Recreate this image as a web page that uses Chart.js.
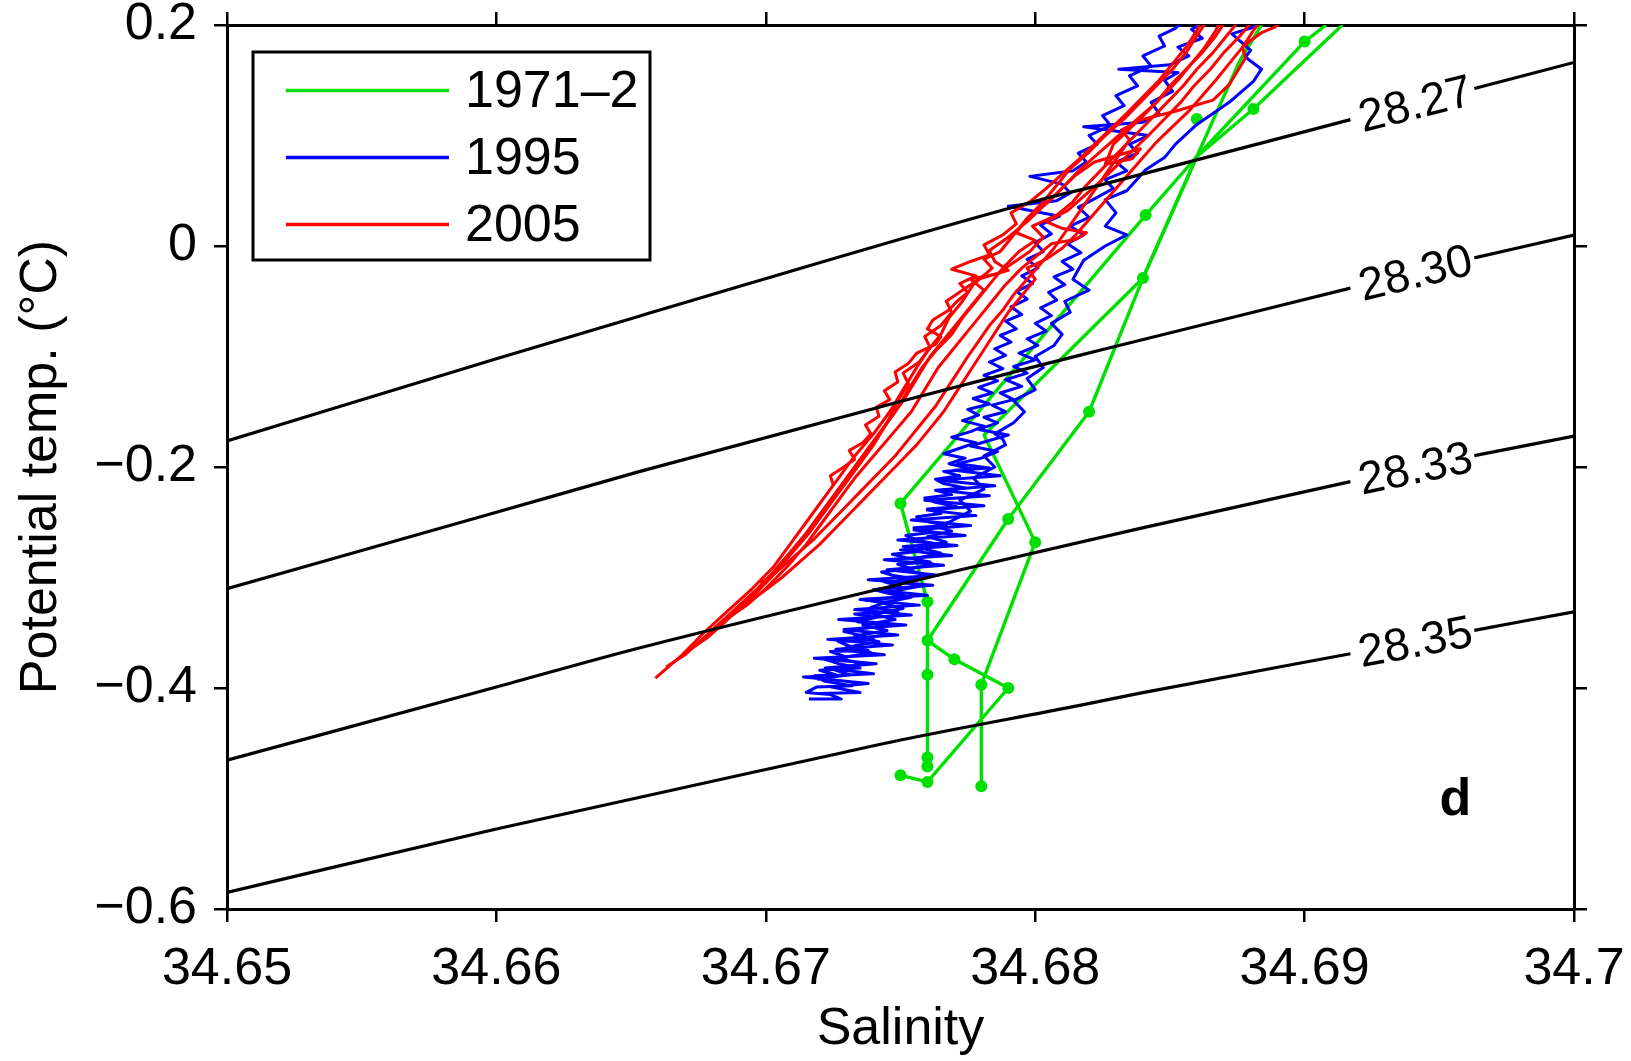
<!DOCTYPE html>
<html>
<head>
<meta charset="utf-8">
<script src="https://cdn.jsdelivr.net/npm/chart.js@4.4.1/dist/chart.umd.min.js"></script>
<style>
  html, body { margin: 0; padding: 0; background: #fff; }
  #wrap { width: 1631px; height: 1061px; }
</style>
</head>
<body>
<div id="wrap"><canvas id="chart" width="1631" height="1061"></canvas></div>
<script>
const FONT = '"Liberation Sans", Arial, Helvetica, sans-serif';

// axes
const X_TICKS = [34.65, 34.66, 34.67, 34.68, 34.69, 34.7];
const X_TICK_LABELS = ["34.65", "34.66", "34.67", "34.68", "34.69", "34.7"];
const Y_TICKS = [-0.6, -0.4, -0.2, 0, 0.2];
const Y_TICK_LABELS = ["\u22120.6", "\u22120.4", "\u22120.2", "0", "0.2"];

const SERIES_LABELS = ["1971\u20132", "1995", "2005"];
const SERIES_COLORS = ["#00e000", "#0000ff", "#ff0000"];

// isopycnals (salinity, potential temp); null marks the gap left for the label
const ISO_LABELS = ["28.27", "28.30", "28.33", "28.35"];
const ISO_S = [
  [34.6500, 34.6600, 34.6653, 34.6802, 34.6824, 34.6917, null, 34.6963, 34.7000],
  [34.6500, 34.6600, 34.6653, 34.6752, 34.6802, 34.6824, 34.6917, null, 34.6963, 34.7000],
  [34.6500, 34.6600, 34.6653, 34.6772, 34.6839, 34.6917, null, 34.6963, 34.7000],
  [34.6500, 34.6600, 34.6728, 34.6750, 34.6817, 34.6839, 34.6917, null, 34.6963, 34.7000],
];
const ISO_T = [
  [-0.1765, -0.1021, -0.0635, 0.0419, 0.0551, 0.1144, null, 0.1426, 0.1661],
  [-0.3101, -0.2410, -0.2042, -0.1393, -0.1078, -0.0944, -0.0381, null, -0.0108, 0.0099],
  [-0.4654, -0.3991, -0.3638, -0.2932, -0.2555, -0.2132, null, -0.1897, -0.1720],
  [-0.5850, -0.5276, -0.4588, -0.4471, -0.4155, -0.4047, -0.3690, null, -0.3478, -0.3310],
];
const PANEL_LETTER = "d";
const PANEL_AT = [34.6956, -0.502];

// 1971-2 bottle casts
const GREEN_1 = [[34.6914,0.200],[34.6881,0.124],[34.6860,0.081],[34.6841,0.028],[34.6750,-0.233],[34.6760,-0.322],[34.6760,-0.357],[34.6760,-0.388],[34.6760,-0.463],[34.6760,-0.471]];
const GREEN_2 = [[34.6908,0.200],[34.6900,0.185],[34.6860,0.081],[34.6840,-0.029],[34.6781,-0.171],[34.6800,-0.268],[34.6780,-0.397],[34.6780,-0.489]];
const GREEN_3 = [[34.6884,0.200],[34.6876,0.168],[34.6860,0.081],[34.6840,-0.029],[34.6820,-0.150],[34.6790,-0.247],[34.6760,-0.357],[34.6770,-0.374],[34.6790,-0.400],[34.6760,-0.485],[34.6750,-0.479]];
const GREEN_BOTTLES = [[34.6900,0.185],[34.6881,0.124],[34.6860,0.115],[34.6841,0.028],[34.6840,-0.029],[34.6820,-0.150],[34.6790,-0.247],[34.6800,-0.268],[34.6750,-0.233],[34.6760,-0.322],[34.6760,-0.357],[34.6770,-0.374],[34.6790,-0.400],[34.6780,-0.397],[34.6760,-0.388],[34.6760,-0.463],[34.6760,-0.471],[34.6750,-0.479],[34.6760,-0.485],[34.6780,-0.489]];

// 1995 CTD profiles
const BLUE_1 = [[34.6716,-0.410],[34.6728,-0.410],[34.6724,-0.406],[34.6715,-0.404],[34.6719,-0.399],[34.6732,-0.398],[34.6722,-0.394],[34.6718,-0.389],[34.6726,-0.388],[34.6720,-0.384],[34.6735,-0.382],[34.6727,-0.378],[34.6722,-0.374],[34.6730,-0.372],[34.6724,-0.367],[34.6738,-0.366],[34.6731,-0.362],[34.6727,-0.358],[34.6740,-0.356],[34.6733,-0.351],[34.6729,-0.349],[34.6736,-0.346],[34.6745,-0.344],[34.6734,-0.340],[34.6741,-0.336],[34.6733,-0.333],[34.6749,-0.331],[34.6739,-0.327],[34.6744,-0.323],[34.6736,-0.320],[34.6752,-0.318],[34.6745,-0.314],[34.6740,-0.311],[34.6750,-0.308],[34.6744,-0.304],[34.6757,-0.302],[34.6747,-0.298],[34.6743,-0.295],[34.6754,-0.292],[34.6749,-0.288],[34.6761,-0.286],[34.6752,-0.282],[34.6747,-0.279],[34.6758,-0.276],[34.6751,-0.272],[34.6764,-0.270],[34.6756,-0.266],[34.6752,-0.262],[34.6762,-0.259],[34.6755,-0.255],[34.6767,-0.253],[34.6759,-0.249],[34.6756,-0.245],[34.6765,-0.242],[34.6760,-0.238],[34.6771,-0.236],[34.6763,-0.232],[34.6759,-0.228],[34.6769,-0.225],[34.6763,-0.221],[34.6774,-0.219],[34.6766,-0.215],[34.6763,-0.211],[34.6772,-0.208],[34.6766,-0.204],[34.6777,-0.202],[34.6768,-0.197],[34.6774,-0.192],[34.6766,-0.188],[34.6772,-0.183],[34.6778,-0.178],[34.6769,-0.173],[34.6776,-0.168],[34.6781,-0.163],[34.6773,-0.158],[34.6779,-0.153],[34.6775,-0.148],[34.6783,-0.143],[34.6777,-0.138],[34.6784,-0.133],[34.6779,-0.128],[34.6786,-0.122],[34.6781,-0.117],[34.6788,-0.111],[34.6783,-0.105],[34.6789,-0.099],[34.6785,-0.093],[34.6791,-0.087],[34.6787,-0.081],[34.6793,-0.075],[34.6789,-0.068],[34.6795,-0.062],[34.6791,-0.055],[34.6797,-0.048],[34.6793,-0.041],[34.6799,-0.034],[34.6795,-0.027],[34.6801,-0.020],[34.6797,-0.012],[34.6803,-0.005],[34.6800,0.003],[34.6806,0.011],[34.6802,0.019],[34.6809,0.027],[34.6790,0.036],[34.6808,0.041],[34.6813,0.048],[34.6810,0.056],[34.6798,0.063],[34.6814,0.068],[34.6819,0.076],[34.6816,0.084],[34.6823,0.092],[34.6820,0.100],[34.6828,0.109],[34.6825,0.118],[34.6833,0.127],[34.6830,0.136],[34.6838,0.145],[34.6835,0.154],[34.6843,0.163],[34.6840,0.172],[34.6848,0.181],[34.6846,0.190],[34.6852,0.197],[34.6855,0.204]];
const BLUE_2 = [[34.6720,-0.405],[34.6735,-0.404],[34.6724,-0.399],[34.6738,-0.396],[34.6714,-0.390],[34.6740,-0.387],[34.6722,-0.382],[34.6741,-0.378],[34.6718,-0.373],[34.6744,-0.370],[34.6726,-0.365],[34.6747,-0.361],[34.6723,-0.356],[34.6749,-0.352],[34.6729,-0.347],[34.6752,-0.343],[34.6727,-0.338],[34.6754,-0.334],[34.6733,-0.329],[34.6757,-0.325],[34.6735,-0.320],[34.6760,-0.316],[34.6740,-0.311],[34.6762,-0.307],[34.6738,-0.302],[34.6764,-0.298],[34.6745,-0.293],[34.6766,-0.289],[34.6744,-0.284],[34.6769,-0.280],[34.6750,-0.275],[34.6771,-0.271],[34.6749,-0.266],[34.6774,-0.262],[34.6755,-0.257],[34.6776,-0.253],[34.6754,-0.248],[34.6778,-0.244],[34.6760,-0.239],[34.6781,-0.235],[34.6759,-0.230],[34.6783,-0.226],[34.6765,-0.221],[34.6785,-0.217],[34.6764,-0.212],[34.6787,-0.208],[34.6770,-0.203],[34.6783,-0.201],[34.6771,-0.197],[34.6780,-0.192],[34.6786,-0.186],[34.6776,-0.181],[34.6783,-0.176],[34.6790,-0.171],[34.6779,-0.166],[34.6786,-0.160],[34.6781,-0.155],[34.6789,-0.150],[34.6784,-0.144],[34.6792,-0.139],[34.6787,-0.133],[34.6795,-0.127],[34.6789,-0.121],[34.6797,-0.115],[34.6792,-0.109],[34.6800,-0.103],[34.6794,-0.097],[34.6801,-0.090],[34.6797,-0.084],[34.6804,-0.077],[34.6800,-0.070],[34.6806,-0.063],[34.6802,-0.056],[34.6808,-0.049],[34.6805,-0.042],[34.6811,-0.035],[34.6807,-0.028],[34.6814,-0.021],[34.6810,-0.014],[34.6817,-0.006],[34.6812,0.002],[34.6818,0.010],[34.6813,0.018],[34.6820,0.026],[34.6816,0.035],[34.6823,0.044],[34.6829,0.052],[34.6826,0.060],[34.6834,0.068],[34.6830,0.076],[34.6838,0.084],[34.6835,0.092],[34.6842,0.100],[34.6818,0.108],[34.6840,0.112],[34.6846,0.120],[34.6843,0.130],[34.6851,0.140],[34.6848,0.150],[34.6853,0.157],[34.6831,0.160],[34.6850,0.164],[34.6857,0.172],[34.6853,0.180],[34.6862,0.188],[34.6858,0.196],[34.6864,0.204]];
const BLUE_3 = [[34.6719,-0.392],[34.6731,-0.388],[34.6725,-0.383],[34.6736,-0.378],[34.6727,-0.373],[34.6739,-0.368],[34.6730,-0.363],[34.6742,-0.358],[34.6733,-0.353],[34.6745,-0.348],[34.6736,-0.343],[34.6748,-0.338],[34.6740,-0.333],[34.6751,-0.328],[34.6743,-0.323],[34.6754,-0.318],[34.6746,-0.313],[34.6757,-0.308],[34.6749,-0.303],[34.6760,-0.298],[34.6752,-0.293],[34.6762,-0.288],[34.6755,-0.283],[34.6765,-0.278],[34.6757,-0.273],[34.6767,-0.268],[34.6760,-0.263],[34.6769,-0.258],[34.6763,-0.254],[34.6768,-0.250],[34.6776,-0.240],[34.6772,-0.230],[34.6781,-0.220],[34.6777,-0.210],[34.6785,-0.200],[34.6781,-0.190],[34.6789,-0.180],[34.6788,-0.175],[34.6785,-0.170],[34.6792,-0.160],[34.6796,-0.150],[34.6792,-0.140],[34.6800,-0.130],[34.6797,-0.120],[34.6803,-0.110],[34.6800,-0.100],[34.6807,-0.090],[34.6810,-0.080],[34.6806,-0.070],[34.6813,-0.060],[34.6811,-0.050],[34.6820,-0.040],[34.6814,-0.030],[34.6818,-0.013],[34.6826,0.000],[34.6834,0.010],[34.6826,0.018],[34.6830,0.030],[34.6826,0.042],[34.6834,0.050],[34.6841,0.069],[34.6848,0.080],[34.6852,0.092],[34.6860,0.110],[34.6866,0.120],[34.6872,0.130],[34.6881,0.149],[34.6884,0.160],[34.6878,0.171],[34.6880,0.177],[34.6873,0.192],[34.6881,0.198],[34.6883,0.205]];

// 2005 CTD profiles
const RED_1 = [[34.6659,-0.391],[34.6669,-0.37],[34.6677,-0.35],[34.6686,-0.33],[34.6695,-0.31],[34.6703,-0.29],[34.6709,-0.27],[34.6715,-0.25],[34.6721,-0.23],[34.6727,-0.21],[34.6733,-0.19],[34.6740,-0.17],[34.6746,-0.15],[34.6751,-0.13],[34.6756,-0.11],[34.6760,-0.095],[34.6765,-0.08],[34.6768,-0.065],[34.6773,-0.05],[34.6777,-0.035],[34.6784,-0.02],[34.6781,-0.012],[34.6787,-0.005],[34.6792,0.01],[34.6797,0.025],[34.6803,0.04],[34.6808,0.055],[34.6813,0.07],[34.6820,0.085],[34.6826,0.1],[34.6833,0.115],[34.6839,0.13],[34.6845,0.145],[34.6851,0.16],[34.6856,0.175],[34.6860,0.19],[34.6864,0.205]];
const RED_2 = [[34.6663,-0.381],[34.6670,-0.37],[34.6679,-0.35],[34.6688,-0.33],[34.6697,-0.31],[34.6705,-0.29],[34.6712,-0.27],[34.6718,-0.25],[34.6724,-0.23],[34.6730,-0.21],[34.6736,-0.19],[34.6742,-0.17],[34.6748,-0.15],[34.6753,-0.13],[34.6758,-0.11],[34.6763,-0.095],[34.6769,-0.08],[34.6773,-0.065],[34.6778,-0.05],[34.6783,-0.035],[34.6788,-0.02],[34.6794,-0.005],[34.6800,0.005],[34.6793,0.012],[34.6797,0.025],[34.6805,0.04],[34.6811,0.055],[34.6817,0.07],[34.6824,0.085],[34.6831,0.1],[34.6838,0.115],[34.6845,0.13],[34.6850,0.145],[34.6856,0.16],[34.6862,0.175],[34.6867,0.19],[34.6871,0.205]];
const RED_3 = [[34.6672,-0.365],[34.6678,-0.355],[34.6685,-0.34],[34.6693,-0.32],[34.6701,-0.30],[34.6708,-0.28],[34.6715,-0.26],[34.6721,-0.24],[34.6727,-0.22],[34.6733,-0.20],[34.6739,-0.18],[34.6745,-0.16],[34.6751,-0.14],[34.6756,-0.12],[34.6761,-0.10],[34.6766,-0.085],[34.6771,-0.07],[34.6776,-0.055],[34.6781,-0.04],[34.6776,-0.03],[34.6786,-0.025],[34.6792,-0.015],[34.6798,-0.005],[34.6803,0.008],[34.6799,0.018],[34.6808,0.028],[34.6814,0.04],[34.6819,0.055],[34.6825,0.07],[34.6831,0.085],[34.6837,0.1],[34.6843,0.115],[34.6849,0.13],[34.6855,0.145],[34.6860,0.16],[34.6866,0.175],[34.6871,0.19],[34.6876,0.205]];
const RED_4 = [[34.6687,-0.335],[34.6693,-0.325],[34.6700,-0.31],[34.6708,-0.29],[34.6715,-0.27],[34.6721,-0.25],[34.6727,-0.23],[34.6733,-0.21],[34.6740,-0.19],[34.6747,-0.17],[34.6754,-0.15],[34.6759,-0.13],[34.6764,-0.11],[34.6769,-0.095],[34.6774,-0.08],[34.6779,-0.065],[34.6784,-0.05],[34.6789,-0.035],[34.6795,-0.02],[34.6801,-0.008],[34.6806,0.002],[34.6815,0.006],[34.6819,0.012],[34.6810,0.016],[34.6804,0.022],[34.6812,0.032],[34.6818,0.045],[34.6824,0.058],[34.6830,0.072],[34.6836,0.086],[34.6842,0.1],[34.6848,0.115],[34.6854,0.13],[34.6859,0.145],[34.6865,0.16],[34.6870,0.175],[34.6876,0.19],[34.6881,0.205]];
const RED_5 = [[34.6681,-0.345],[34.6687,-0.335],[34.6694,-0.32],[34.6702,-0.30],[34.6709,-0.28],[34.6716,-0.26],[34.6722,-0.24],[34.6728,-0.22],[34.6734,-0.20],[34.6740,-0.18],[34.6745,-0.16],[34.6749,-0.14],[34.6753,-0.125],[34.6751,-0.115],[34.6757,-0.105],[34.6761,-0.092],[34.6759,-0.082],[34.6765,-0.072],[34.6769,-0.06],[34.6767,-0.05],[34.6773,-0.04],[34.6779,-0.03],[34.6790,-0.022],[34.6785,-0.014],[34.6783,-0.004],[34.6790,0.008],[34.6797,0.022],[34.6803,0.036],[34.6809,0.05],[34.6815,0.064],[34.6822,0.076],[34.6839,0.088],[34.6836,0.079],[34.6826,0.074],[34.6829,0.092],[34.6835,0.106],[34.6841,0.12],[34.6847,0.135],[34.6853,0.15],[34.6858,0.165],[34.6863,0.18],[34.6867,0.195],[34.6869,0.205]];
const RED_6 = [[34.6725,-0.216],[34.6724,-0.208],[34.6729,-0.200],[34.6733,-0.193],[34.6731,-0.185],[34.6736,-0.178],[34.6739,-0.170],[34.6737,-0.162],[34.6742,-0.154],[34.6741,-0.146],[34.6746,-0.139],[34.6744,-0.131],[34.6749,-0.123],[34.6748,-0.114],[34.6753,-0.106],[34.6756,-0.097],[34.6763,-0.089],[34.6765,-0.082],[34.6760,-0.075],[34.6762,-0.067],[34.6768,-0.058],[34.6771,-0.050],[34.6775,-0.042],[34.6772,-0.034],[34.6778,-0.027],[34.6769,-0.021],[34.6776,-0.014],[34.6783,-0.008],[34.6781,0.001],[34.6788,0.010],[34.6793,0.020],[34.6791,0.030],[34.6798,0.040],[34.6804,0.052],[34.6810,0.065],[34.6816,0.078],[34.6822,0.092],[34.6828,0.106],[34.6834,0.120],[34.6840,0.135],[34.6846,0.150],[34.6851,0.165],[34.6856,0.180],[34.6860,0.195],[34.6862,0.205]];
const RED_7 = [[34.6693,-0.323],[34.6699,-0.313],[34.6706,-0.30],[34.6713,-0.285],[34.6720,-0.27],[34.6726,-0.255],[34.6732,-0.24],[34.6738,-0.225],[34.6744,-0.21],[34.6750,-0.195],[34.6756,-0.18],[34.6761,-0.165],[34.6766,-0.15],[34.6770,-0.135],[34.6774,-0.12],[34.6778,-0.105],[34.6782,-0.09],[34.6786,-0.075],[34.6790,-0.06],[34.6795,-0.045],[34.6800,-0.03],[34.6797,-0.02],[34.6804,-0.012],[34.6810,-0.002],[34.6815,0.01],[34.6820,0.024],[34.6825,0.038],[34.6830,0.052],[34.6835,0.066],[34.6840,0.08],[34.6845,0.094],[34.6851,0.108],[34.6857,0.122],[34.6862,0.136],[34.6867,0.15],[34.6872,0.165],[34.6877,0.18],[34.6881,0.195],[34.6884,0.205]];
const RED_8 = [[34.6698,-0.305],[34.6704,-0.295],[34.6711,-0.28],[34.6718,-0.265],[34.6724,-0.25],[34.6730,-0.235],[34.6736,-0.22],[34.6742,-0.205],[34.6748,-0.19],[34.6753,-0.175],[34.6758,-0.16],[34.6763,-0.145],[34.6767,-0.13],[34.6771,-0.115],[34.6775,-0.1],[34.6779,-0.086],[34.6783,-0.072],[34.6788,-0.058],[34.6792,-0.044],[34.6797,-0.03],[34.6802,-0.016],[34.6807,-0.002],[34.6811,0.012],[34.6815,0.026],[34.6819,0.04],[34.6823,0.054],[34.6827,0.068],[34.6831,0.082],[34.6835,0.096],[34.6832,0.105],[34.6839,0.114],[34.6852,0.122],[34.6866,0.132],[34.6872,0.146],[34.6876,0.162],[34.6878,0.17],[34.6877,0.18],[34.6880,0.186],[34.6884,0.193],[34.6889,0.198],[34.6892,0.205]];

const toPoints = (rows) => rows.map(([s, t]) => ({ x: s, y: t }));

const trace = (rows, color, width) => ({
  data: toPoints(rows),
  showLine: true,
  borderColor: color,
  backgroundColor: color,
  borderWidth: width,
  borderJoinStyle: "round",
  pointRadius: 0,
  pointHoverRadius: 0,
  tension: 0,
  clip: 0,
});

const datasets = [];
// first dataset is drawn on top
ISO_S.forEach((sRow, k) => {
  const gap = sRow.indexOf(null);
  const pts = sRow.map((s, i) => ({ x: s, y: ISO_T[k][i] }));
  [pts.slice(0, gap), pts.slice(gap + 1)].forEach((seg) => {
    datasets.push({ data: seg, showLine: true, borderColor: "#000", borderWidth: 3.2, pointRadius: 0, cubicInterpolationMode: "monotone", clip: 0 });
  });
});
[RED_1, RED_2, RED_3, RED_4, RED_5, RED_6, RED_7, RED_8].forEach((r) => datasets.push(trace(r, SERIES_COLORS[2], 3)));
[BLUE_1, BLUE_2, BLUE_3].forEach((r) => datasets.push(trace(r, SERIES_COLORS[1], 3)));
datasets.push({ data: toPoints(GREEN_BOTTLES), showLine: false, pointRadius: 6, pointBackgroundColor: SERIES_COLORS[0], pointBorderWidth: 0, clip: 0 });
[GREEN_1, GREEN_2, GREEN_3].forEach((r) => datasets.push(trace(r, SERIES_COLORS[0], 3.4)));

const tickFont = { family: FONT, size: 52 };

function frameAxis(position, ticks, labels, size, padding) {
  return {
    type: "linear",
    position,
    afterBuildTicks: (axis) => { axis.ticks = ticks.map((value) => ({ value })); },
    afterFit: (axis) => {
      if (axis.isHorizontal()) axis.height = size;
      else axis.width = size;
      // keep the plot frame where it is in the original figure
      axis.paddingTop = 0;
      axis.paddingBottom = 0;
      axis.paddingLeft = 0;
      axis.paddingRight = 0;
    },
    ticks: {
      autoSkip: false,
      maxRotation: 0,
      minRotation: 0,
      padding,
      color: "#000",
      font: tickFont,
      callback: (value, index) => (labels ? labels[index] : ""),
    },
    grid: { drawOnChartArea: false, drawTicks: true, tickLength: 13, lineWidth: 2.5, color: "#000" },
    border: { display: true, width: 3, color: "#000" },
  };
}

const annotations = {
  id: "annotations",
  afterDraw(chart) {
    const { ctx, chartArea, scales: { x, y } } = chart;
    ctx.save();

    // isopycnal labels sit in the gap of each line
    ctx.fillStyle = "#000";
    ctx.font = `46px ${FONT}`;
    ctx.textAlign = "center";
    ctx.textBaseline = "middle";
    ISO_S.forEach((sRow, k) => {
      const gap = sRow.indexOf(null);
      const x0 = x.getPixelForValue(sRow[gap - 1]);
      const y0 = y.getPixelForValue(ISO_T[k][gap - 1]);
      const x1 = x.getPixelForValue(sRow[gap + 1]);
      const y1 = y.getPixelForValue(ISO_T[k][gap + 1]);
      ctx.save();
      ctx.translate((x0 + x1) / 2 + 3, (y0 + y1) / 2);
      ctx.rotate(Math.atan2(y1 - y0, x1 - x0));
      ctx.fillText(ISO_LABELS[k], 0, 2);
      ctx.restore();
    });

    ctx.font = `bold 52px ${FONT}`;
    ctx.fillText(PANEL_LETTER, x.getPixelForValue(PANEL_AT[0]), y.getPixelForValue(PANEL_AT[1]));

    // legend box
    const left = chartArea.left + 26;
    const top = chartArea.top + 27;
    ctx.fillStyle = "#fff";
    ctx.fillRect(left, top, 397, 208);
    ctx.lineWidth = 3;
    ctx.strokeStyle = "#000";
    ctx.strokeRect(left, top, 397, 208);
    ctx.textAlign = "left";
    ctx.font = `52px ${FONT}`;
    SERIES_LABELS.forEach((label, i) => {
      const yy = top + 38.5 + i * 67;
      ctx.strokeStyle = SERIES_COLORS[i];
      ctx.lineWidth = 3.5;
      ctx.beginPath();
      ctx.moveTo(left + 33, yy);
      ctx.lineTo(left + 196, yy);
      ctx.stroke();
      ctx.fillStyle = "#000";
      ctx.fillText(label, left + 212, yy + 2);
    });
    ctx.restore();
  },
};

new Chart(document.getElementById("chart"), {
  type: "scatter",
  data: { datasets },
  options: {
    responsive: false,
    devicePixelRatio: 1,
    animation: false,
    events: [],
    layout: { padding: 0 },
    plugins: { legend: { display: false }, tooltip: { enabled: false } },
    scales: {
      x: {
        ...frameAxis("bottom", X_TICKS, X_TICK_LABELS, 152, 16),
        min: 34.65,
        max: 34.7,
        title: { display: true, text: "Salinity", color: "#000", font: { family: FONT, size: 52 }, padding: { top: 0, bottom: 0 } },
      },
      x2: { ...frameAxis("top", X_TICKS, null, 25, 0), min: 34.65, max: 34.7 },
      y: {
        ...frameAxis("left", Y_TICKS, Y_TICK_LABELS, 227, 17),
        min: -0.6,
        max: 0.2,
        title: { display: true, text: "Potential temp. (\u00b0C)", color: "#000", font: { family: FONT, size: 52 }, padding: { top: 10, bottom: 0 } },
      },
      y2: { ...frameAxis("right", Y_TICKS, null, 57, 0), min: -0.6, max: 0.2 },
    },
  },
  plugins: [annotations],
});
</script>
</body>
</html>
